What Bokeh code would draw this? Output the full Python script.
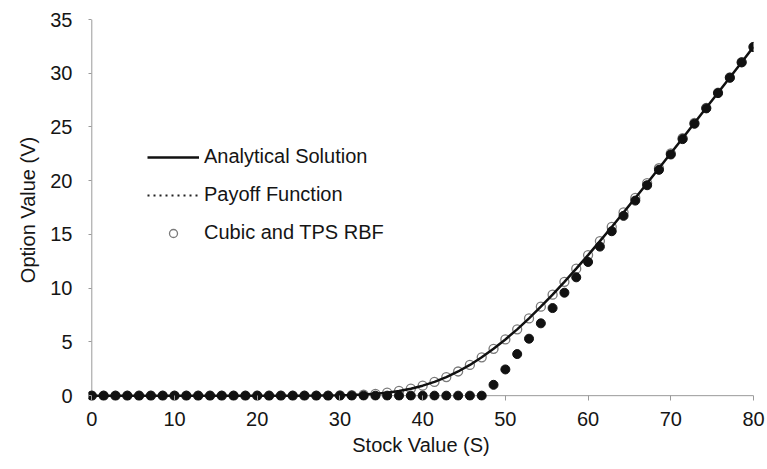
from bokeh.plotting import figure
from bokeh.models import (Range1d, Legend, LegendItem, FixedTicker, ColumnDataSource, Span)
from bokeh.embed import file_html
from bokeh.resources import INLINE

# Stock value grid
stock = [0, 1.43, 2.86, 4.29, 5.71, 7.14, 8.57, 10, 11.43, 12.86, 14.29, 15.71,
         17.14, 18.57, 20, 21.43, 22.86, 24.29, 25.71, 27.14, 28.57, 30, 31.43,
         32.86, 34.29, 35.71, 37.14, 38.57, 40, 41.43, 42.86, 44.29, 45.71, 47.14,
         48.57, 50, 51.43, 52.86, 54.29, 55.71, 57.14, 58.57, 60, 61.43, 62.86,
         64.29, 65.71, 67.14, 68.57, 70, 71.43, 72.86, 74.29, 75.71, 77.14, 78.57, 80]

# Analytical solution (solid line)
analytical = [0, 0, 0, 0, 0, 0, 0, 0, 0, 0, 0, 0,
              0, 0, 0, 0, 0, 0, 0.001, 0.005, 0.012, 0.027, 0.054,
              0.099, 0.172, 0.281, 0.435, 0.649, 0.93, 1.28, 1.73, 2.25, 2.86, 3.57,
              4.36, 5.23, 6.17, 7.19, 8.28, 9.40, 10.59, 11.82, 13.08, 14.38, 15.70,
              17.05, 18.40, 19.77, 21.16, 22.55, 23.95, 25.37, 26.78, 28.19, 29.61, 31.03, 32.46]

# Payoff function (dots)
payoff = [0, 0, 0, 0, 0, 0, 0, 0, 0, 0, 0, 0,
          0, 0, 0, 0, 0, 0, 0, 0, 0, 0, 0,
          0, 0, 0, 0, 0, 0, 0, 0, 0, 0, 0,
          1.01, 2.44, 3.87, 5.30, 6.73, 8.15, 9.58, 11.01, 12.44, 13.87, 15.30,
          16.73, 18.15, 19.58, 21.01, 22.44, 23.87, 25.30, 26.73, 28.15, 29.58, 31.01, 32.44]

# Cubic and TPS RBF (open circles)
rbf = [0, 0, 0, 0, 0, 0, 0, 0, 0, 0, 0, 0,
       0, 0, 0, 0, 0, 0, 0.001, 0.005, 0.012, 0.027, 0.054,
       0.10, 0.17, 0.28, 0.44, 0.65, 0.93, 1.28, 1.73, 2.25, 2.86, 3.57,
       4.36, 5.23, 6.17, 7.19, 8.28, 9.40, 10.59, 11.82, 13.08, 14.38, 15.70,
       17.05, 18.40, 19.77, 21.16, 22.55, 23.95, 25.37, 26.78, 28.19, 29.61, 31.03, 32.46]

x_ticks = [0, 10, 20, 30, 40, 50, 60, 70, 80]
y_ticks = [0, 5, 10, 15, 20, 25, 30, 35]

FONT = "Liberation Sans"
AXIS_GREY = "#9a9a9a"

p = figure(width=767, height=469, output_backend="svg", toolbar_location=None,
           x_range=Range1d(-0.4, 80), y_range=Range1d(-0.45, 35),
           min_border_left=88, min_border_right=14, min_border_top=19,
           min_border_bottom=69)
p.background_fill_color = "white"
p.border_fill_color = "white"
p.outline_line_color = None
p.xgrid.visible = False
p.ygrid.visible = False

# axis lines at the data zero
p.add_layout(Span(location=0, dimension="width", line_color=AXIS_GREY,
                  line_width=1, level="underlay"))
p.add_layout(Span(location=0, dimension="height", line_color=AXIS_GREY,
                  line_width=1, level="underlay"))

src = ColumnDataSource(dict(s=stock, a=analytical, p=payoff, r=rbf))

r_rbf = p.scatter("s", "r", source=src, marker="circle", size=9,
                  fill_color=None, line_color="#7a7a7a", line_width=1.3)
r_line = p.line("s", "a", source=src, line_color="#111111", line_width=2.5)
r_dots = p.scatter("s", "p", source=src, marker="circle", size=9,
                   fill_color="#111111", line_color="#111111")
# legend-only dotted line for the payoff function (draws nothing in the plot)
nan = float("nan")
r_dummy = p.line(x=[nan], y=[nan], line_color="#222222", line_width=2.2,
                 line_dash="2 4")

for ax, ticks in ((p.xaxis, x_ticks), (p.yaxis, y_ticks)):
    ax.ticker = FixedTicker(ticks=ticks)
    ax.minor_tick_line_color = None
    ax.axis_line_color = None
    ax.major_tick_line_color = AXIS_GREY
    ax.major_tick_out = 0
    ax.major_label_text_font = FONT
    ax.major_label_text_font_size = "20px"
    ax.major_label_text_color = "#151515"
    ax.axis_label_text_font = FONT
    ax.axis_label_text_font_size = "20px"
    ax.axis_label_text_font_style = "normal"
    ax.axis_label_text_color = "#151515"

p.xaxis.major_tick_in = 5
p.yaxis.major_tick_in = 3
p.xaxis.axis_label = "Stock Value (S)"
p.yaxis.axis_label = "Option Value (V)"
p.xaxis.major_label_standoff = 11
p.yaxis.major_label_standoff = 16
p.xaxis.axis_label_standoff = 5
p.yaxis.axis_label_standoff = 8

legend = Legend(items=[
    LegendItem(label="Analytical Solution", renderers=[r_line]),
    LegendItem(label="Payoff Function", renderers=[r_dummy]),
    LegendItem(label="Cubic and TPS RBF", renderers=[r_rbf]),
], location=(59, 156))
legend.padding = 0
legend.margin = 0
legend.spacing = 15
legend.label_height = 20
legend.glyph_height = 20
legend.glyph_width = 52
legend.label_standoff = 5
legend.border_line_color = None
legend.background_fill_alpha = 0
legend.label_text_font = FONT
legend.label_text_font_size = "20px"
legend.label_text_color = "#151515"
p.add_layout(legend, "center")

open("out.html", "w").write(file_html(p, INLINE))
